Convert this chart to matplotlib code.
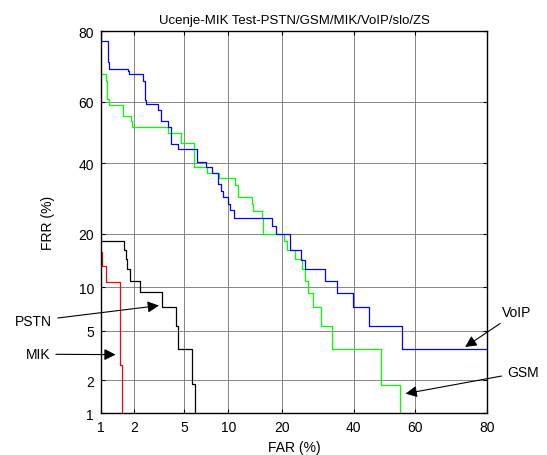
import numpy as np
import matplotlib
matplotlib.use("Agg")
import matplotlib.pyplot as plt
from statistics import NormalDist

plt.rcParams['font.family'] = ['Liberation Sans', 'DejaVu Sans']

# DET krivulje (FAR %, FRR %), tocke stopnic
voip_far = [1.0, 1.0, 1.16, 1.19, 1.78, 1.81, 2.40, 2.47, 2.52, 3.14, 3.32, 3.81, 4.0, 4.51, 6.18,
            7.17, 7.82, 8.57, 9.0, 9.3, 10.0, 10.3, 10.8, 17.9, 18.6, 21.8, 24.6, 25.6, 31.3, 34.7,
            39.7, 44.9, 55.7, 80]
voip_frr = [80, 77.7, 72.0, 70.2, 69.5, 68.6, 66.6, 60.6, 59.3, 57.4, 53.9, 51.8, 46.2, 44.5, 40.4,
            38.6, 36.8, 33.5, 31.5, 29.6, 27.7, 26.0, 23.9, 21.9, 20.0, 16.5, 14.6, 12.9, 10.95, 9.16,
            7.34, 5.46, 3.63, 3.63]

gsm_far = [1.0, 1.11, 1.15, 1.19, 1.61, 1.87, 1.93, 3.81, 4.78, 5.86, 7.32, 8.74, 11.07, 11.5, 13.8,
           14.1, 15.7, 16.0, 20.4, 21.2, 23.2, 24.9, 25.75, 26.6, 27.8, 30.1, 33.3, 48.9, 55.1]
gsm_frr = [68.6, 66.6, 61.0, 59.1, 55.5, 53.9, 51.7, 49.8, 46.4, 38.8, 36.8, 35.2, 33.3, 29.5, 27.7,
           25.8, 24.0, 20.1, 18.5, 16.5, 14.7, 12.9, 10.95, 9.16, 7.34, 5.46, 3.66, 1.83, 0.9]

pstn_far = [1.0, 1.64, 1.69, 1.74, 1.84, 2.24, 3.38, 4.36, 4.51, 5.76, 5.97]
pstn_frr = [18.35, 16.5, 14.7, 12.9, 10.95, 9.26, 7.34, 5.46, 3.66, 1.85, 0.9]

mik_far = [1.0, 1.03, 1.12, 1.50, 1.56]
mik_frr = [16.0, 13.4, 10.7, 2.69, 0.9]

ticks = [1, 2, 5, 10, 20, 40, 60, 80]

nd = NormalDist()
_ppf = np.vectorize(nd.inv_cdf, otypes=[float])
_cdf = np.vectorize(nd.cdf, otypes=[float])


def probit(p):
    p = np.clip(np.asarray(p, dtype=float) / 100.0, 1e-9, 1 - 1e-9)
    return _ppf(p)


def inv_probit(z):
    return _cdf(np.asarray(z, dtype=float)) * 100.0


fig = plt.figure(figsize=(5.47, 4.56), dpi=100)
ax = fig.add_axes([0.1846, 0.0921, 0.7057, 0.8377])
ax.set_xscale('function', functions=(probit, inv_probit))
ax.set_yscale('function', functions=(probit, inv_probit))

ax.plot(pstn_far, pstn_frr, color='black', lw=0.9, drawstyle='steps-post')
ax.plot(gsm_far, gsm_frr, color='#00ff00', lw=0.9, drawstyle='steps-post')
ax.plot(mik_far, mik_frr, color='#ff0000', lw=0.9, drawstyle='steps-post')
ax.plot(voip_far, voip_frr, color='#0000ff', lw=0.9, drawstyle='steps-post')

ax.set_xlim(1, 80)
ax.set_ylim(1, 80)
ax.set_xticks(ticks)
ax.set_yticks(ticks)
ax.set_xticklabels([str(t) for t in ticks])
ax.set_yticklabels([str(t) for t in ticks])
ax.xaxis.set_minor_locator(matplotlib.ticker.NullLocator())
ax.yaxis.set_minor_locator(matplotlib.ticker.NullLocator())
ax.tick_params(direction='in', length=3, width=0.8, top=True, right=True, labelsize=10, pad=5)
ax.grid(True, color='0.45', lw=0.6)
for s in ax.spines.values():
    s.set_linewidth(1.0)

ax.set_title('Ucenje-MIK Test-PSTN/GSM/MIK/VoIP/slo/ZS', fontsize=9.5, pad=6)
ax.set_xlabel('FAR (%)', fontsize=10, labelpad=4)
ax.set_ylabel('FRR (%)', fontsize=10, labelpad=17)

arrow = dict(arrowstyle='-|>', color='black', lw=0.8, mutation_scale=17)
ax.annotate('VoIP', xy=(74, 3.66), xytext=(1.078, 0.264), textcoords='axes fraction',
            ha='center', va='center', fontsize=10, arrowprops=arrow, annotation_clip=False)
ax.annotate('GSM', xy=(56, 1.5), xytext=(1.093, 0.107), textcoords='axes fraction',
            ha='center', va='center', fontsize=10, arrowprops=arrow, annotation_clip=False)
ax.annotate('PSTN', xy=(3.38, 7.6), xytext=(-0.174, 0.241), textcoords='axes fraction',
            ha='center', va='center', fontsize=10, arrowprops=arrow, annotation_clip=False)
ax.annotate('MIK', xy=(1.45, 3.27), xytext=(-0.163, 0.154), textcoords='axes fraction',
            ha='center', va='center', fontsize=10, arrowprops=arrow, annotation_clip=False)

fig.savefig('out.png', dpi=100)
